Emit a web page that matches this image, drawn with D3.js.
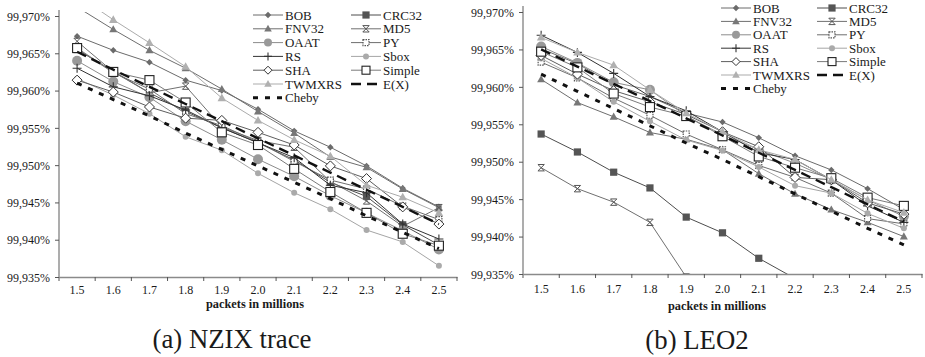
<!DOCTYPE html>
<html>
<head>
<meta charset="utf-8">
<script src="https://cdn.jsdelivr.net/npm/d3@7"></script>
<style>
  body { margin: 0; background: #fff; }
  svg { display: block; }
  text { font-family: "Liberation Serif", "DejaVu Serif", serif; fill: #1a1a1a; }
</style>
</head>
<body>
<div id="chart"></div>
<script>
// categories / ticks
const packets = ['1.5', '1.6', '1.7', '1.8', '1.9', '2.0', '2.1', '2.2', '2.3', '2.4', '2.5'];
const yTicks = [99.935, 99.940, 99.945, 99.950, 99.955, 99.960, 99.965, 99.970];
const seriesNames = ['BOB', 'CRC32', 'FNV32', 'MD5', 'OAAT', 'PY', 'RS', 'Sbox', 'SHA', 'Simple', 'TWMXRS', 'E(X)', 'Cheby'];

// (a) NZIX trace
const nzixBOB    = [99.9673, 99.9654, 99.9638, 99.9614, 99.9600, 99.9575, 99.9546, 99.9524, 99.9499, 99.9469, 99.9444];
const nzixCRC32  = [99.9655, 99.9626, 99.9597, 99.9572, 99.9550, 99.9530, 99.9507, 99.9477, 99.9458, 99.9420, 99.9393];
const nzixFNV32  = [99.9712, 99.9682, 99.9654, 99.9630, 99.9602, 99.9572, 99.9543, 99.9511, 99.9497, 99.9468, 99.9443];
const nzixMD5    = [99.9666, 99.9625, 99.9597, 99.9606, 99.9551, 99.9533, 99.9524, 99.9478, 99.9452, 99.9418, 99.9443];
const nzixOAAT   = [99.9640, 99.9612, 99.9591, 99.9559, 99.9534, 99.9508, 99.9485, 99.9459, 99.9436, 99.9412, 99.9387];
const nzixPY     = [99.9656, 99.9624, 99.9602, 99.9569, 99.9553, 99.9531, 99.9505, 99.9480, 99.9468, 99.9445, 99.9427];
const nzixRS     = [99.9630, 99.9605, 99.9593, 99.9574, 99.9550, 99.9530, 99.9510, 99.9473, 99.9463, 99.9421, 99.9401];
const nzixSbox   = [99.9616, 99.9594, 99.9569, 99.9538, 99.9520, 99.9489, 99.9463, 99.9441, 99.9413, 99.9397, 99.9365];
const nzixSHA    = [99.9614, 99.9598, 99.9578, 99.9563, 99.9560, 99.9544, 99.9527, 99.9499, 99.9482, 99.9444, 99.9421];
const nzixSimple = [99.9657, 99.9625, 99.9614, 99.9584, 99.9544, 99.9527, 99.9495, 99.9464, 99.9436, 99.9408, 99.9392];
const nzixTWMXRS = [99.9728, 99.9695, 99.9664, 99.9632, 99.9590, 99.9560, 99.9534, 99.9512, 99.9473, 99.9457, 99.9436];
const nzixEX     = [99.9652, 99.9628, 99.9605, 99.9582, 99.9559, 99.9536, 99.9513, 99.9490, 99.9467, 99.9444, 99.9421];
const nzixCheby  = [99.9610, 99.9588, 99.9566, 99.9543, 99.9521, 99.9499, 99.9477, 99.9455, 99.9432, 99.9410, 99.9388];

// (b) LEO2
const leoBOB    = [99.9651, 99.9631, 99.9603, 99.9587, 99.9565, 99.9553, 99.9532, 99.9508, 99.9489, 99.9464, 99.9436];
const leoCRC32  = [99.9537, 99.9513, 99.9486, 99.9465, 99.9426, 99.9405, 99.9371, 99.9344, null, null, null];
const leoFNV32  = [99.9610, 99.9579, 99.9560, 99.9539, 99.9530, 99.9516, 99.9484, 99.9457, 99.9436, 99.9419, 99.9400];
const leoMD5    = [99.9492, 99.9464, 99.9446, 99.9419, 99.9346, null, null, null, null, null, null];
const leoOAAT   = [99.9654, 99.9632, 99.9606, 99.9596, 99.9561, 99.9536, 99.9516, 99.9498, 99.9476, 99.9449, 99.9427];
const leoPY     = [99.9633, 99.9612, 99.9585, 99.9562, 99.9537, 99.9516, 99.9495, 99.9479, 99.9458, 99.9424, 99.9417];
const leoRS     = [99.9669, 99.9646, 99.9618, 99.9587, 99.9568, 99.9540, 99.9512, 99.9503, 99.9476, 99.9441, 99.9419];
const leoSbox   = [99.9638, 99.9612, 99.9580, 99.9554, 99.9529, 99.9515, 99.9493, 99.9468, 99.9458, 99.9431, 99.9411];
const leoSHA    = [99.9642, 99.9617, 99.9595, 99.9580, 99.9563, 99.9540, 99.9520, 99.9479, 99.9476, 99.9445, 99.9430];
const leoSimple = [99.9647, 99.9626, 99.9591, 99.9573, 99.9561, 99.9534, 99.9507, 99.9492, 99.9478, 99.9452, 99.9441];
const leoTWMXRS = [99.9666, 99.9646, 99.9629, 99.9596, 99.9565, 99.9540, 99.9516, 99.9503, 99.9476, 99.9449, 99.9432];
const leoEX     = [99.9650, 99.9627, 99.9604, 99.9581, 99.9558, 99.9535, 99.9512, 99.9489, 99.9466, 99.9443, 99.9420];
const leoCheby  = [99.9617, 99.9594, 99.9571, 99.9548, 99.9525, 99.9503, 99.9480, 99.9457, 99.9434, 99.9411, 99.9389];

const nzixSeries = [nzixBOB, nzixCRC32, nzixFNV32, nzixMD5, nzixOAAT, nzixPY, nzixRS, nzixSbox, nzixSHA, nzixSimple, nzixTWMXRS, nzixEX, nzixCheby];
const leoSeries = [leoBOB, leoCRC32, leoFNV32, leoMD5, leoOAAT, leoPY, leoRS, leoSbox, leoSHA, leoSimple, leoTWMXRS, leoEX, leoCheby];

// look of each series (same order as seriesNames)
const styles = [
  { stroke: '#6b6b6b', marker: 'diamond', fill: '#6b6b6b', size: 3.2 },
  { stroke: '#4d4d4d', marker: 'square', fill: '#555', size: 3.6 },
  { stroke: '#6e6e6e', marker: 'triangle', fill: '#777', size: 4.2 },
  { stroke: '#707070', marker: 'star', fill: 'none', size: 3.2 },
  { stroke: '#8c8c8c', marker: 'circle', fill: '#999', size: 5 },
  { stroke: '#6e6e6e', marker: 'dotsquare', fill: '#fff', size: 3 },
  { stroke: '#333', marker: 'plus', fill: 'none', size: 4.5 },
  { stroke: '#a5a5a5', marker: 'circle', fill: '#aaa', size: 3 },
  { stroke: '#5e5e5e', marker: 'odiamond', fill: '#fff', size: 5 },
  { stroke: '#7a7a7a', marker: 'osquare', fill: '#fff', size: 4.5 },
  { stroke: '#ababab', marker: 'triangle', fill: '#b0b0b0', size: 4.5 },
  { stroke: '#111', marker: null, dash: '10,6', width: 2.4 },
  { stroke: '#111', marker: null, dash: '5,7', width: 3 }
];

const W = 925, H = 357;
const FONT = '"Liberation Serif", "DejaVu Serif", serif';
const svg = d3.select('#chart').append('svg')
  .attr('width', W).attr('height', H);
svg.append('rect').attr('width', W).attr('height', H).attr('fill', '#fff');

const fmt = d => d3.format('.3f')(d).replace('.', ',') + '%';

// pick a font size so that a sample string gets the width it has in the picture
function fitSize(str, target, weight) {
  const t = svg.append('text')
    .style('font-family', FONT)
    .style('font-size', '20px')
    .style('font-weight', weight || 'normal')
    .text(str);
  const w = t.node().getComputedTextLength();
  t.remove();
  return 20 * target / w;
}
const tickYSize = fitSize('99,970%', 43);
const tickXSize = fitSize('1.5', 15);
const legendSize = fitSize('TWMXRS', 57);
const titleSize = fitSize('packets in millions', 98, 'bold');
const captionSize = fitSize('(a) NZIX trace', 159);

function drawMarker(g, st, cx, cy) {
  const s = st.size;
  const m = g.append('g').attr('transform', `translate(${cx},${cy})`);
  if (st.marker === 'circle') {
    m.append('circle').attr('r', s).attr('fill', st.fill);
  } else if (st.marker === 'diamond') {
    m.append('path').attr('d', `M0,${-s}L${s},0L0,${s}L${-s},0Z`).attr('fill', st.fill);
  } else if (st.marker === 'odiamond') {
    m.append('path').attr('d', `M0,${-s}L${s},0L0,${s}L${-s},0Z`)
      .attr('fill', '#fff').attr('stroke', '#333').attr('stroke-width', 1);
  } else if (st.marker === 'square') {
    m.append('rect').attr('x', -s).attr('y', -s).attr('width', 2 * s).attr('height', 2 * s).attr('fill', st.fill);
  } else if (st.marker === 'osquare') {
    m.append('rect').attr('x', -s).attr('y', -s).attr('width', 2 * s).attr('height', 2 * s)
      .attr('fill', '#fff').attr('stroke', '#222').attr('stroke-width', 1.1);
  } else if (st.marker === 'dotsquare') {
    m.append('rect').attr('x', -s).attr('y', -s).attr('width', 2 * s).attr('height', 2 * s)
      .attr('fill', '#fff').attr('stroke', '#555').attr('stroke-width', 1.2).attr('stroke-dasharray', '1.5,1');
  } else if (st.marker === 'triangle') {
    m.append('path').attr('d', `M0,${-s}L${s * 0.95},${s * 0.7}L${-s * 0.95},${s * 0.7}Z`).attr('fill', st.fill);
  } else if (st.marker === 'plus') {
    m.append('path').attr('d', `M${-s},0H${s}M0,${-s}V${s}`).attr('stroke', st.stroke).attr('stroke-width', 1.1);
  } else if (st.marker === 'star') {
    m.append('path').attr('d', `M${-s},${-s}L${s},${s}M${s},${-s}L${-s},${s}M${-s},${-s}H${s}M${-s},${s}H${s}`)
      .attr('stroke', '#555').attr('stroke-width', 1);
  }
}

function drawPanel(p) {
  const x = d3.scaleBand().domain(packets).range([p.left, p.right]).padding(0);
  const y = d3.scaleLinear().domain([99.935, 99.970]).range([p.bottom, p.top]);
  const bw = x.bandwidth();
  const cx = c => x(c) + bw / 2;

  const clipId = 'clip-' + p.id;
  svg.append('clipPath').attr('id', clipId)
    .append('rect').attr('x', p.left).attr('y', p.clipTop)
    .attr('width', p.right - p.left).attr('height', p.bottom - p.clipTop);

  const plot = svg.append('g').attr('clip-path', `url(#${clipId})`);

  const line = d3.line()
    .defined(d => d.v !== null)
    .x(d => cx(d.c))
    .y(d => y(d.v));

  // hash functions first, then E(X) and Cheby on top
  p.series.forEach((vals, i) => {
    const st = styles[i];
    const pts = packets.map((c, j) => ({ c: c, v: vals[j] }));
    plot.append('path')
      .datum(pts)
      .attr('d', line)
      .attr('fill', 'none')
      .attr('stroke', st.stroke)
      .attr('stroke-width', st.width || 1)
      .attr('stroke-dasharray', st.dash || null);
    if (st.marker) {
      pts.filter(d => d.v !== null).forEach(d => drawMarker(plot, st, cx(d.c), y(d.v)));
    }
  });

  // y axis
  const yAxis = svg.append('g')
    .attr('transform', `translate(${p.left},0)`)
    .call(d3.axisLeft(y).tickValues(yTicks).tickFormat(fmt).tickSize(4).tickSizeOuter(0).tickPadding(5));
  yAxis.select('.domain').attr('stroke', '#8a8a8a').attr('stroke-width', 1.4)
    .attr('d', `M0,${p.clipTop - 2}V${p.bottom}`);
  yAxis.selectAll('.tick line').attr('stroke', '#555');
  yAxis.selectAll('.tick text')
    .style('font-family', FONT).style('font-size', tickYSize + 'px')
    .attr('fill', '#1a1a1a').attr('dy', '0.35em');

  // x axis, tick marks sit between the categories
  const xAxis = svg.append('g')
    .attr('transform', `translate(0,${p.bottom})`)
    .call(d3.axisBottom(x).tickSize(4).tickSizeOuter(0));
  xAxis.select('.domain').attr('stroke', '#8a8a8a').attr('stroke-width', 1.4);
  xAxis.selectAll('.tick line').attr('stroke', '#555').attr('x1', -bw / 2).attr('x2', -bw / 2);
  xAxis.append('line').attr('x1', p.right).attr('x2', p.right).attr('y1', 0).attr('y2', 4).attr('stroke', '#555');
  xAxis.selectAll('.tick text')
    .style('font-family', FONT).style('font-size', tickXSize + 'px')
    .attr('fill', '#1a1a1a').attr('y', p.xLabelBase).attr('dy', 0);

  // x axis title
  svg.append('text')
    .attr('x', p.titleX).attr('y', p.titleY)
    .attr('text-anchor', 'middle')
    .style('font-size', titleSize + 'px').style('font-weight', 'bold')
    .text('packets in millions');

  // caption
  svg.append('text')
    .attr('x', p.captionX).attr('y', p.captionY)
    .attr('text-anchor', 'middle')
    .style('font-size', captionSize + 'px')
    .text(p.caption);

  // legend, two columns
  const lg = svg.append('g');
  seriesNames.forEach((name, i) => {
    const st = styles[i];
    const col = i % 2, row = Math.floor(i / 2);
    const lx = p.legendX + col * p.legendColW;
    const ly = p.legendY + row * p.legendDY;
    lg.append('line')
      .attr('x1', lx).attr('x2', lx + 30).attr('y1', ly).attr('y2', ly)
      .attr('stroke', st.stroke)
      .attr('stroke-width', st.width || 1)
      .attr('stroke-dasharray', st.dash || null);
    if (st.marker) drawMarker(lg, Object.assign({}, st, { size: Math.min(st.size, 4) }), lx + 15, ly);
    lg.append('text')
      .attr('x', lx + 32).attr('y', ly + 4.5)
      .style('font-size', legendSize + 'px')
      .text(name);
  });
}

drawPanel({
  id: 'nzix', series: nzixSeries,
  left: 59, right: 457, top: 16, bottom: 277, clipTop: 12,
  xLabelBase: 17, titleX: 255, titleY: 308,
  caption: '(a) NZIX trace', captionX: 232, captionY: 348,
  legendX: 253, legendY: 15, legendDY: 13.8, legendColW: 98
});

drawPanel({
  id: 'leo', series: leoSeries,
  left: 523, right: 922, top: 12, bottom: 274, clipTop: 8,
  xLabelBase: 19, titleX: 717, titleY: 310,
  caption: '(b) LEO2', captionX: 697, captionY: 349,
  legendX: 721, legendY: 8, legendDY: 13.4, legendColW: 96
});
</script>
</body>
</html>
